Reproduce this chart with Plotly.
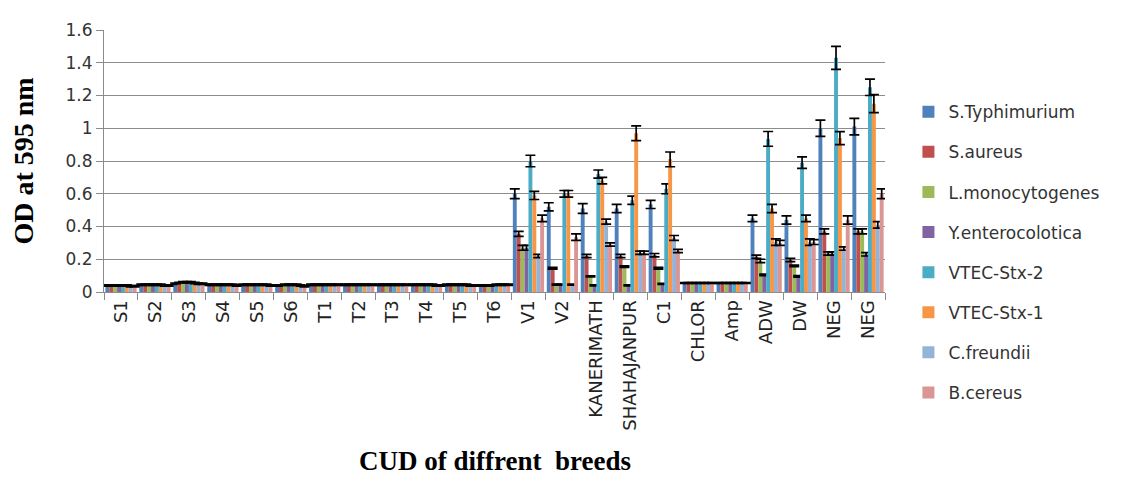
import plotly.graph_objects as go

categories = ["S1", "S2", "S3", "S4", "S5", "S6", "T1", "T2", "T3", "T4", "T5", "T6",
              "V1", "V2", "KANERIMATH", "SHAHAJANPUR", "C1", "CHLOR", "Amp", "ADW", "DW", "NEG", "NEG"]

series_names = ["S.Typhimurium", "S.aureus", "L.monocytogenes", "Y.enterocolotica",
                "VTEC-Stx-2", "VTEC-Stx-1", "C.freundii", "B.cereus"]

s_typhimurium = [0.04, 0.045, 0.05, 0.045, 0.045, 0.04, 0.045, 0.045, 0.045, 0.045, 0.045, 0.04,
                 0.60, 0.52, 0.51, 0.51, 0.535, 0.055, 0.055, 0.45, 0.44, 1.00, 1.01]
s_typhimurium_err = [0.004] * 12 + [0.03, 0.025, 0.03, 0.025, 0.025, 0.003, 0.003, 0.02, 0.025, 0.05, 0.05]

s_aureus = [0.04, 0.045, 0.055, 0.045, 0.045, 0.04, 0.045, 0.045, 0.045, 0.045, 0.045, 0.04,
            0.355, 0.145, 0.22, 0.22, 0.225, 0.055, 0.055, 0.215, 0.195, 0.37, 0.37]
s_aureus_err = [0.004] * 12 + [0.015, 0.005, 0.01, 0.01, 0.01, 0.003, 0.003, 0.01, 0.01, 0.015, 0.015]

l_monocytogenes = [0.04, 0.045, 0.06, 0.045, 0.045, 0.045, 0.045, 0.045, 0.045, 0.045, 0.045, 0.04,
                   0.27, 0.045, 0.095, 0.155, 0.145, 0.055, 0.055, 0.19, 0.16, 0.235, 0.37]
l_monocytogenes_err = [0.004] * 12 + [0.015, 0.003, 0.003, 0.005, 0.005, 0.003, 0.003, 0.01, 0.005, 0.01, 0.015]

y_enterocolotica = [0.04, 0.045, 0.06, 0.045, 0.045, 0.045, 0.045, 0.045, 0.045, 0.045, 0.045, 0.04,
                    0.27, 0.045, 0.04, 0.04, 0.05, 0.055, 0.055, 0.105, 0.095, 0.235, 0.23]
y_enterocolotica_err = [0.004] * 12 + [0.015, 0.003, 0.003, 0.003, 0.003, 0.003, 0.003, 0.005, 0.005, 0.01, 0.01]

vtec_stx2 = [0.04, 0.045, 0.06, 0.045, 0.045, 0.045, 0.045, 0.045, 0.045, 0.045, 0.045, 0.045,
             0.80, 0.60, 0.72, 0.56, 0.63, 0.055, 0.055, 0.935, 0.79, 1.43, 1.25]
vtec_stx2_err = [0.004] * 12 + [0.035, 0.02, 0.025, 0.025, 0.03, 0.003, 0.003, 0.045, 0.035, 0.07, 0.05]

vtec_stx1 = [0.04, 0.045, 0.055, 0.045, 0.045, 0.045, 0.045, 0.045, 0.045, 0.045, 0.045, 0.045,
             0.59, 0.60, 0.68, 0.97, 0.81, 0.055, 0.055, 0.51, 0.45, 0.94, 1.15]
vtec_stx1_err = [0.004] * 12 + [0.025, 0.02, 0.02, 0.045, 0.045, 0.003, 0.003, 0.025, 0.02, 0.04, 0.055]

c_freundii = [0.035, 0.04, 0.05, 0.045, 0.045, 0.04, 0.045, 0.045, 0.045, 0.04, 0.04, 0.045,
              0.22, 0.045, 0.43, 0.24, 0.33, 0.055, 0.055, 0.305, 0.305, 0.265, 0.41]
c_freundii_err = [0.004] * 12 + [0.01, 0.003, 0.015, 0.01, 0.015, 0.003, 0.003, 0.02, 0.02, 0.01, 0.02]

b_cereus = [0.035, 0.04, 0.05, 0.04, 0.04, 0.035, 0.045, 0.045, 0.045, 0.04, 0.04, 0.045,
            0.45, 0.335, 0.29, 0.24, 0.25, 0.055, 0.055, 0.30, 0.305, 0.44, 0.60]
b_cereus_err = [0.004] * 12 + [0.02, 0.02, 0.01, 0.01, 0.01, 0.003, 0.003, 0.015, 0.015, 0.025, 0.03]

y_tick_vals = [0, 0.2, 0.4, 0.6, 0.8, 1.0, 1.2, 1.4, 1.6]
y_tick_text = ["0", "0.2", "0.4", "0.6", "0.8", "1", "1.2", "1.4", "1.6"]

colors = ["#4F81BD", "#C0504D", "#9BBB59", "#8064A2", "#4BACC6", "#F79646", "#95B3D7", "#D99694"]

all_values = [s_typhimurium, s_aureus, l_monocytogenes, y_enterocolotica,
              vtec_stx2, vtec_stx1, c_freundii, b_cereus]
all_errors = [s_typhimurium_err, s_aureus_err, l_monocytogenes_err, y_enterocolotica_err,
              vtec_stx2_err, vtec_stx1_err, c_freundii_err, b_cereus_err]

x_pos = list(range(len(categories)))

fig = go.Figure()
for i, name in enumerate(series_names):
    fig.add_trace(go.Bar(
        x=x_pos, y=all_values[i], name=name, legendgroup=name,
        marker=dict(color=colors[i], line=dict(width=0)),
        error_y=dict(type="data", array=all_errors[i], visible=True,
                     color="black", thickness=1.7, width=5),
    ))

label_font = "DejaVu Sans, Verdana, sans-serif"
serif_font = "Liberation Serif, Times New Roman, serif"

# The page body adds an 8px margin, so the figure is 8px smaller and shifted.
fig.update_layout(
    width=1125, height=469,
    margin=dict(l=96, r=248, t=12, b=185),
    paper_bgcolor="white", plot_bgcolor="white",
    barmode="group", bargap=0.08, bargroupgap=0,
    showlegend=True,
    legend=dict(x=1.03, y=0.755, xanchor="left", yanchor="top",
                font=dict(family=label_font, size=17, color="#333"),
                tracegroupgap=15, traceorder="grouped",
                itemwidth=30, maxheight=420),
    xaxis=dict(
        range=[-0.5, len(categories) - 0.5],
        tickmode="array", tickvals=x_pos, ticktext=categories,
        tickangle=-90, ticks="",
        tickfont=dict(family=label_font, size=18, color="#222"),
        showline=True, linecolor="#8c8c8c", linewidth=1,
        showgrid=False, zeroline=False,
        minor=dict(tickmode="array", tickvals=[i - 0.5 for i in range(len(categories) + 1)],
                   ticks="outside", ticklen=7, tickcolor="#8c8c8c", showgrid=False),
    ),
    yaxis=dict(
        range=[0, 1.6], tickmode="array", tickvals=y_tick_vals, ticktext=y_tick_text,
        ticks="outside", ticklen=7, tickcolor="#8c8c8c",
        tickfont=dict(family=label_font, size=17, color="#333"),
        showline=True, linecolor="#8c8c8c", linewidth=1,
        showgrid=True, gridcolor="#8c8c8c", gridwidth=1, zeroline=False,
        title=dict(text="<b>OD at 595 nm</b>",
                   font=dict(family=serif_font, size=28, color="black"),
                   standoff=24),
    ),
)

fig.add_annotation(
    text="<b>CUD of diffrent  breeds</b>", xref="paper", yref="paper",
    x=0.5, y=-0.645, xanchor="center", yanchor="middle", showarrow=False,
    font=dict(family=serif_font, size=27, color="black"),
)

fig.write_html("out.html")
